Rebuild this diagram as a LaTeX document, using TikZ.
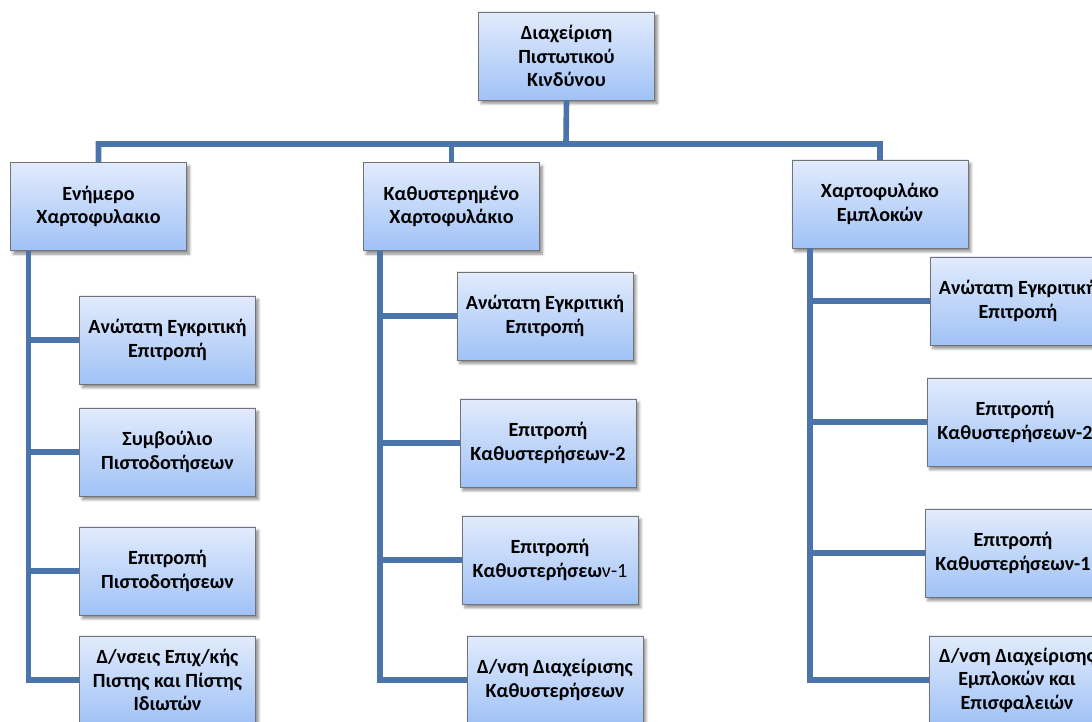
\documentclass[tikz,border=0pt]{standalone}
\usepackage{fontspec}
\setmainfont{Carlito}
\usetikzlibrary{shadows.blur}
\definecolor{linkblue}{RGB}{74,116,170}
\definecolor{boxtop}{RGB}{226,235,252}
\definecolor{boxbot}{RGB}{160,194,246}

\begin{document}
\begin{tikzpicture}[x=0.025cm,y=-0.025cm,
			box/.style = {draw=black!55,line width=0.5pt,top color=boxtop,bottom color=boxbot,
				align=center,minimum width=4.4cm,minimum height=2.2cm,inner sep=1pt,
				font=\fontsize{14.3}{16.7}\selectfont\bfseries,
				blur shadow={shadow xshift=2pt,shadow yshift=-2.5pt,shadow blur steps=6,shadow opacity=45}},
			link/.style = {draw=linkblue,line width=4pt}]
			\useasboundingbox (0,0) rectangle (1092,722);
			\clip (0,0) rectangle (1092,722);
			\node [box] (root) at (566.5,56) {Διαχείριση\\Πιστωτικού\\Κινδύνου};
			\node [box] (enimero) at (98.5,206.5) {Ενήμερο\\Χαρτοφυλακιο};
			\node [box] (kathyst) at (451.5,206.5) {Καθυστερημένο\\Χαρτοφυλάκιο};
			\node [box] (emplok) at (880,204) {Χαρτοφυλάκο\\Εμπλοκών};
			\node [box] (e1) at (167.5,340) {Ανώτατη Εγκριτική\\Επιτροπή};
			\node [box] (e2) at (167.5,452) {Συμβούλιο\\Πιστοδοτήσεων};
			\node [box] (e3) at (167.5,571) {Επιτροπή\\Πιστοδοτήσεων};
			\node [box] (e4) at (167.5,680) {Δ/νσεις Επιχ/κής\\Πιστης και Πίστης\\Ιδιωτών};
			\node [box] (k1) at (545,316) {Ανώτατη Εγκριτική\\Επιτροπή};
			\node [box] (k2) at (548,443) {Επιτροπή\\Καθυστερήσεων-2};
			\node [box] (k3) at (550,560) {Επιτροπή\\Καθυστερήσεω{\mdseries ν-1}};
			\node [box] (k4) at (555,680) {Δ/νση Διαχείρισης\\Καθυστερήσεων};
			\node [box] (m1) at (1018,301) {Ανώτατη Εγκριτική\\Επιτροπή};
			\node [box] (m2) at (1015,422) {Επιτροπή\\Καθυστερήσεων-2};
			\node [box] (m3) at (1013,553) {Επιτροπή\\Καθυστερήσεων-1};
			\node [box] (m4) at (1017,680) {Δ/νση Διαχείρισης\\Εμπλοκών και\\Επισφαλειών};
			\coordinate (bus) at (566,144);
			\coordinate (eL) at ([xshift=-1.75cm]enimero.south);
			\coordinate (kL) at ([xshift=-1.78cm]kathyst.south);
			\coordinate (mL) at ([xshift=-1.75cm]emplok.south);
			\draw [link] (root.south) -- (bus) -| (enimero.north);
			\draw [link] (bus) -| (kathyst.north) (bus) -| (emplok.north);
			\draw [link] (eL) |- (e1.west) (eL) |- (e2.west) (eL) |- (e3.west) (eL) |- (e4.west);
			\draw [link] (kL) |- (k1.west) (kL) |- (k2.west) (kL) |- (k3.west) (kL) |- (k4.west);
			\draw [link] (mL) |- (m1.west) (mL) |- (m2.west) (mL) |- (m3.west) (mL) |- (m4.west);
		\end{tikzpicture}
\end{document}
